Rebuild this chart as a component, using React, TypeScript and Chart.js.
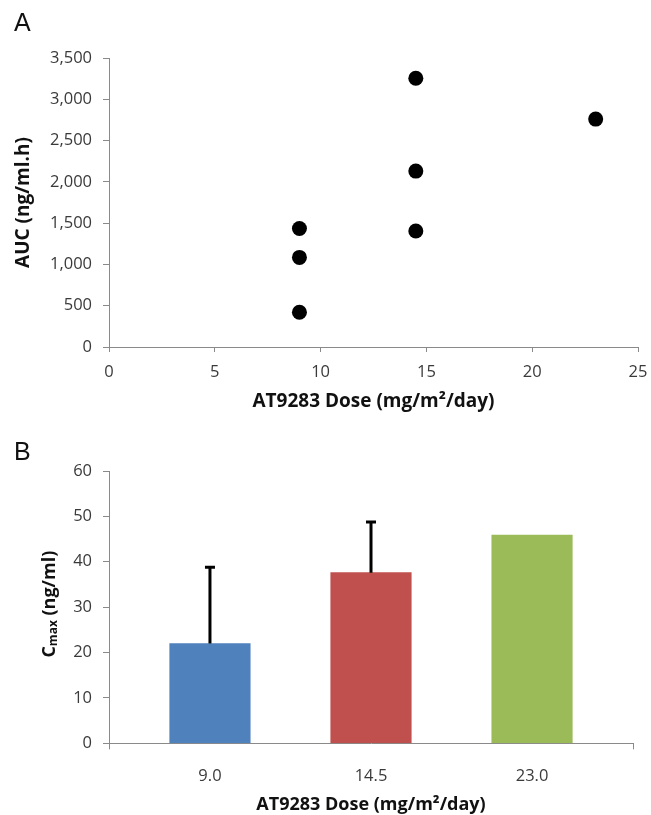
import React, { useEffect, useRef } from 'react';
import { Chart, registerables } from 'chart.js';

Chart.register(...registerables);

// ---------- Panel A data (scatter) ----------
const doseA = [9, 9, 9, 14.5, 14.5, 14.5, 23];
const aucA = [1435, 1085, 420, 3255, 2130, 1405, 2760];

// ---------- Panel B data (bars with upper error bars) ----------
const doseLabelsB = ['9.0', '14.5', '23.0'];
const cmaxMean = [22.0, 37.6, 45.9];
const cmaxErrUp = [17.0, 11.4, 0];
const barColors = ['#4F81BD', '#C0504D', '#9BBB59'];

const FONT = "'Open Sans', sans-serif";
const AXIS_GREY = '#8a8a8a';
const TICK_TEXT = '#3a3a3a';
const TITLE_TEXT = '#111111';

const zeroPad = (s: any) => {
  s.paddingLeft = 0;
  s.paddingRight = 0;
  s.paddingTop = 0;
  s.paddingBottom = 0;
};

const errorBarPlugin = {
  id: 'errorBars',
  afterDatasetsDraw(chart: any) {
    const meta = chart.getDatasetMeta(0);
    const yScale = chart.scales.y;
    const ctx = chart.ctx;
    ctx.save();
    ctx.strokeStyle = '#000';
    ctx.lineWidth = 3;
    meta.data.forEach((bar: any, i: number) => {
      const err = cmaxErrUp[i];
      if (!err) return;
      const x = bar.x;
      const y0 = yScale.getPixelForValue(cmaxMean[i]);
      const y1 = yScale.getPixelForValue(cmaxMean[i] + err);
      ctx.beginPath();
      ctx.moveTo(x, y0);
      ctx.lineTo(x, y1);
      ctx.moveTo(x - 5, y1 + 1);
      ctx.lineTo(x + 5, y1 + 1);
      ctx.stroke();
    });
    ctx.restore();
  },
};

const cmaxTitlePlugin = {
  id: 'cmaxTitle',
  afterDraw(chart: any) {
    const ctx = chart.ctx;
    const area = chart.chartArea;
    const cy = (area.top + area.bottom) / 2 - 3;
    const big = `bold 18px ${FONT}`;
    const small = `bold 12px ${FONT}`;
    ctx.save();
    ctx.font = big;
    const wC = ctx.measureText('C').width;
    const wRest = ctx.measureText(' (ng/ml)').width;
    ctx.font = small;
    const wSub = ctx.measureText('max').width;
    const total = wC + wSub + wRest;
    ctx.translate(55, cy);
    ctx.rotate(-Math.PI / 2);
    ctx.fillStyle = TITLE_TEXT;
    ctx.textBaseline = 'alphabetic';
    ctx.textAlign = 'left';
    let x = -total / 2;
    ctx.font = big;
    ctx.fillText('C', x, 0);
    x += wC;
    ctx.font = small;
    ctx.fillText('max', x, 2);
    x += wSub;
    ctx.font = big;
    ctx.fillText(' (ng/ml)', x, 0);
    ctx.restore();
  },
};

function ChartA() {
  const ref = useRef<HTMLCanvasElement | null>(null);
  useEffect(() => {
    if (!ref.current) return;
    const chart = new Chart(ref.current, {
      type: 'scatter',
      data: {
        datasets: [
          {
            data: doseA.map((x, i) => ({ x, y: aucA[i] })),
            backgroundColor: '#000',
            borderColor: '#000',
            borderWidth: 0,
            pointRadius: 7.5,
            pointHoverRadius: 7.5,
          },
        ],
      },
      options: {
        animation: false,
        responsive: false,
        maintainAspectRatio: false,
        layout: { padding: { top: 58, right: 13, left: 0, bottom: 0 } },
        plugins: { legend: { display: false }, tooltip: { enabled: false } },
        scales: {
          x: {
            type: 'linear',
            min: 0,
            max: 25,
            ticks: { stepSize: 5, color: TICK_TEXT, font: { family: FONT, size: 16.5 }, padding: 10 },
            grid: { display: true, drawOnChartArea: false, tickLength: 5, color: AXIS_GREY },
            border: { color: AXIS_GREY, width: 1 },
            title: {
              display: true,
              text: 'AT9283 Dose (mg/m²/day)',
              color: TITLE_TEXT,
              font: { family: FONT, size: 19, weight: 'bold', lineHeight: 1.2 },
              padding: { top: 0, bottom: 1.6 },
            },
            afterFit: (s: any) => {
              s.height = 68;
              zeroPad(s);
            },
          },
          y: {
            min: 0,
            max: 3500,
            ticks: {
              stepSize: 500,
              color: TICK_TEXT,
              font: { family: FONT, size: 16.5 },
              padding: 11,
              callback: (v: any) => Number(v).toLocaleString('en-US'),
            },
            grid: { display: true, drawOnChartArea: false, tickLength: 6, color: AXIS_GREY },
            border: { color: AXIS_GREY, width: 1 },
            title: {
              display: true,
              text: 'AUC (ng/ml.h)',
              color: TITLE_TEXT,
              font: { family: FONT, size: 19, weight: 'bold', lineHeight: 1.2 },
              padding: { top: 12.1, bottom: 0 },
            },
            afterFit: (s: any) => {
              s.width = 109;
              zeroPad(s);
            },
          },
        },
      },
    } as any);
    return () => chart.destroy();
  }, []);
  return <canvas ref={ref} width={651} height={415} style={{ display: 'block', width: 651, height: 415 }} />;
}

function ChartB() {
  const ref = useRef<HTMLCanvasElement | null>(null);
  useEffect(() => {
    if (!ref.current) return;
    const chart = new Chart(ref.current, {
      type: 'bar',
      data: {
        datasets: [
          {
            data: cmaxMean.map((y, i) => ({ x: i, y })),
            backgroundColor: barColors,
            borderWidth: 0,
            barThickness: 80.5,
          },
        ],
      },
      options: {
        animation: false,
        responsive: false,
        maintainAspectRatio: false,
        layout: { padding: { top: 56, right: 18, left: 0, bottom: 0 } },
        plugins: { legend: { display: false }, tooltip: { enabled: false } },
        scales: {
          x: {
            type: 'linear',
            min: -0.627,
            max: 2.627,
            offset: false,
            afterBuildTicks: (s: any) => {
              s.ticks = [s.min, 0, 1, 2, s.max].map((v: number) => ({ value: v }));
            },
            ticks: {
              autoSkip: false,
              color: TICK_TEXT,
              font: { family: FONT, size: 16.5 },
              padding: 17,
              callback: (v: any) => (Number.isInteger(v) ? doseLabelsB[v] : ''),
            },
            grid: {
              display: true,
              offset: false,
              drawOnChartArea: false,
              tickLength: 6,
              color: (c: any) => (c.tick && Number.isInteger(c.tick.value) ? 'rgba(0,0,0,0)' : AXIS_GREY),
            },
            border: { color: AXIS_GREY, width: 1 },
            title: {
              display: true,
              text: 'AT9283 Dose (mg/m²/day)',
              color: TITLE_TEXT,
              font: { family: FONT, size: 18, weight: 'bold', lineHeight: 1 },
              padding: { top: 0, bottom: 1.5 },
            },
            afterFit: (s: any) => {
              s.height = 71.7;
              zeroPad(s);
            },
          },
          y: {
            min: 0,
            max: 60,
            ticks: { stepSize: 10, color: TICK_TEXT, font: { family: FONT, size: 16.5 }, padding: 11 },
            grid: { display: true, drawOnChartArea: false, tickLength: 6, color: AXIS_GREY },
            border: { color: AXIS_GREY, width: 1 },
            afterFit: (s: any) => {
              s.width = 109;
              zeroPad(s);
            },
          },
        },
      },
      plugins: [errorBarPlugin, cmaxTitlePlugin],
    } as any);
    return () => chart.destroy();
  }, []);
  return <canvas ref={ref} width={651} height={400} style={{ display: 'block', width: 651, height: 400 }} />;
}

const letterStyle: React.CSSProperties = {
  position: 'absolute',
  left: 14,
  fontFamily: "'Liberation Sans', Arial, sans-serif",
  fontSize: 25,
  lineHeight: '25px',
  color: '#111',
};

export default function App() {
  return (
    <div style={{ position: 'absolute', left: 0, top: 0, width: 651, height: 815, background: '#fff', overflow: 'hidden' }}>
      <div style={{ position: 'absolute', left: 0, top: 0 }}>
        <ChartA />
      </div>
      <div style={{ position: 'absolute', left: 0, top: 415 }}>
        <ChartB />
      </div>
      <div style={{ ...letterStyle, top: 10 }}>A</div>
      <div style={{ ...letterStyle, top: 439 }}>B</div>
    </div>
  );
}
